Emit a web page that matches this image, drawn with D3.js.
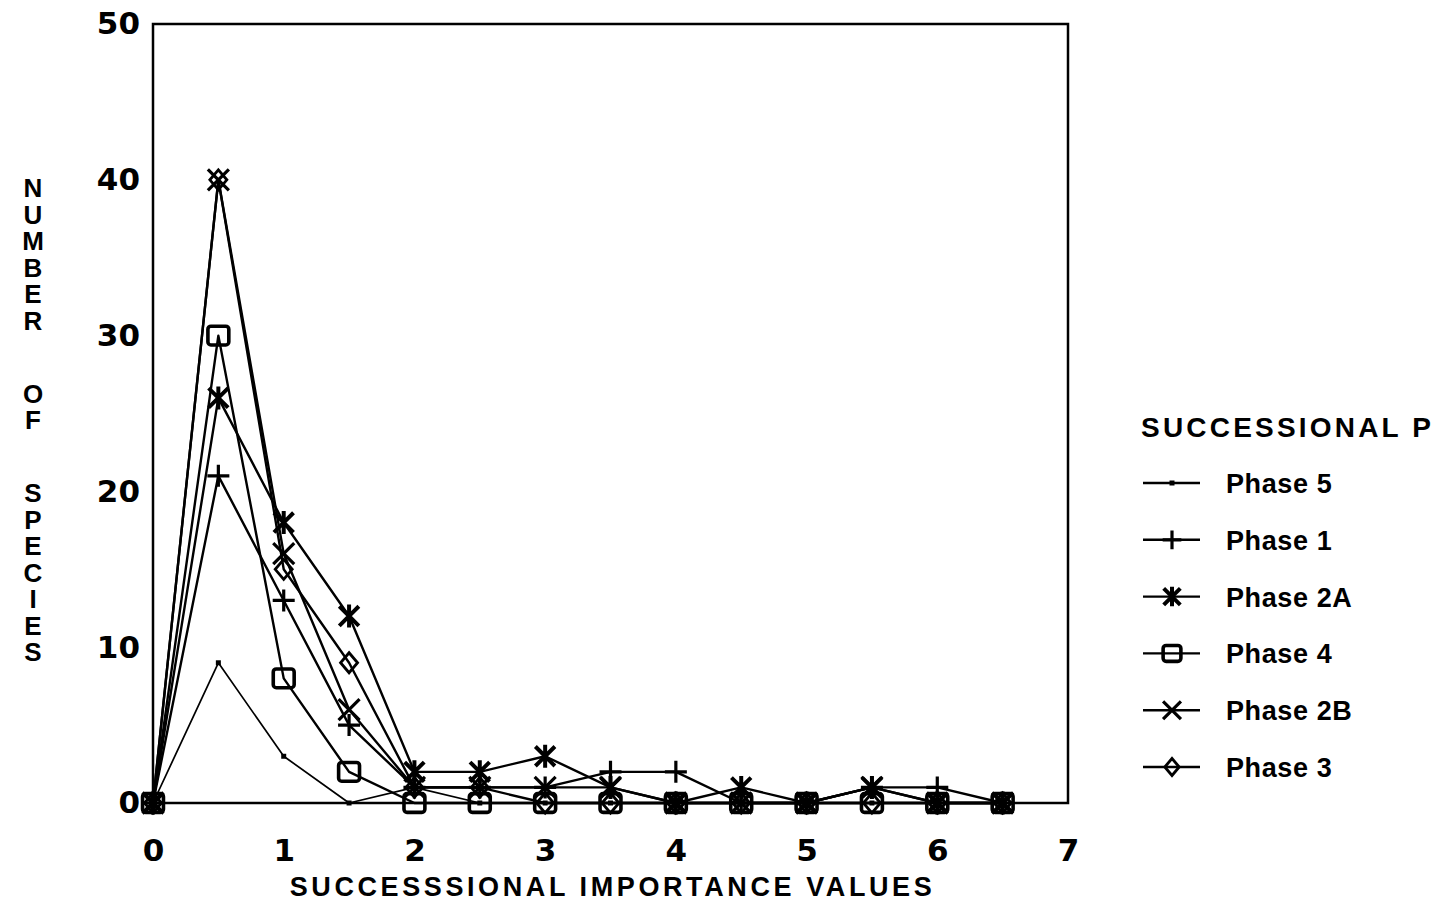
<!DOCTYPE html>
<html>
<head>
<meta charset="utf-8">
<script src="https://cdn.jsdelivr.net/npm/d3@7/dist/d3.min.js"></script>
<style>
  html, body { margin: 0; padding: 0; background: #fff; }
  svg { display: block; }
  .stacked { writing-mode: vertical-rl; text-orientation: upright; }
</style>
</head>
<body>
<svg id="chart" width="1438" height="902"></svg>
<script>
// Successional importance values (x) and number of species per phase
const siValues = [0, 0.5, 1, 1.5, 2, 2.5, 3, 3.5, 4, 4.5, 5, 5.5, 6, 6.5];
const phase5  = [0, 9, 3, 0, 1, 0, 0, 0, 0, 0, 0, 0, 0, 0];
const phase1  = [0, 21, 13, 5, 1, 1, 1, 2, 2, 0, 0, 1, 1, 0];
const phase2A = [0, 26, 18, 12, 2, 2, 3, 1, 0, 1, 0, 1, 0, 0];
const phase4  = [0, 30, 8, 2, 0, 0, 0, 0, 0, 0, 0, 0, 0, 0];
const phase2B = [0, 40, 16, 6, 1, 1, 1, 1, 0, 0, 0, 1, 0, 0];
const phase3  = [0, 40, 15, 9, 1, 1, 0, 0, 0, 0, 0, 0, 0, 0];

const xTicks = [0, 1, 2, 3, 4, 5, 6, 7];
const yTicks = [0, 10, 20, 30, 40, 50];
const seriesNames = ["Phase 5", "Phase 1", "Phase 2A", "Phase 4", "Phase 2B", "Phase 3"];
const seriesMarkers = ["dot", "plus", "asterisk", "square", "cross", "diamond"];
const seriesValues = [phase5, phase1, phase2A, phase4, phase2B, phase3];

const xTitle = "SUCCESSSIONAL IMPORTANCE VALUES";
const yTitle = "NUMBER OF SPECIES";
const legendTitle = "SUCCESSIONAL P";

const series = seriesNames.map((name, i) => ({
  name,
  marker: seriesMarkers[i],
  points: siValues.map((x, j) => ({ x, y: seriesValues[i][j] }))
}));

const svg = d3.select("#chart");
const plot = { left: 153, right: 1068, top: 24, bottom: 803 };

const x = d3.scaleLinear().domain([0, 7]).range([plot.left, plot.right]);
const y = d3.scaleLinear().domain([0, 50]).range([plot.bottom, plot.top]);

const tickFont = "'DejaVu Sans', 'Liberation Sans', sans-serif";
const textFont = "'Liberation Sans', Arial, sans-serif";

// Glyph outlines for the point markers, centred at the origin
function markerShape(type, s) {
  switch (type) {
    case "plus":
      return `M${-s},0H${s}M0,${-s}V${s}`;
    case "cross":
      return `M${-s},${-s}L${s},${s}M${-s},${s}L${s},${-s}`;
    case "asterisk":
      return `M${-s * 0.85},${-s * 0.85}L${s * 0.85},${s * 0.85}M${-s * 0.85},${s * 0.85}L${s * 0.85},${-s * 0.85}M0,${-s}V${s}`;
    case "diamond":
      return `M0,${-s}L${s * 0.85},0L0,${s}L${-s * 0.85},0Z`;
    default:
      return "";
  }
}

function drawMarker(g, type, s) {
  if (type === "dot") {
    g.append("rect").attr("x", -2.5).attr("y", -2.5).attr("width", 5).attr("height", 5)
      .attr("fill", "#000");
  } else if (type === "square") {
    g.append("rect").attr("x", -s * 0.95).attr("y", -s * 0.85)
      .attr("width", s * 1.9).attr("height", s * 1.7)
      .attr("rx", 3).attr("fill", "none").attr("stroke", "#000").attr("stroke-width", 3.6);
  } else {
    const w = type === "diamond" ? 2.8 : (type === "asterisk" ? 4 : 3.2);
    g.append("path").attr("d", markerShape(type, s))
      .attr("fill", "none").attr("stroke", "#000").attr("stroke-width", w)
      .attr("stroke-linejoin", "miter");
  }
}

const markerSize = { dot: 3, plus: 11, asterisk: 11.5, square: 11, cross: 10.5, diamond: 10 };

// Frame around the plotting area
svg.append("rect")
  .attr("x", plot.left).attr("y", plot.top)
  .attr("width", plot.right - plot.left).attr("height", plot.bottom - plot.top)
  .attr("fill", "none").attr("stroke", "#000").attr("stroke-width", 2.5);

// Axes (labels only, no tick marks)
const yAxis = svg.append("g")
  .attr("transform", `translate(${plot.left},0)`)
  .call(d3.axisLeft(y).tickValues(yTicks).tickSize(0).tickPadding(13).tickFormat(d3.format("d")));
const xAxis = svg.append("g")
  .attr("transform", `translate(0,${plot.bottom})`)
  .call(d3.axisBottom(x).tickValues(xTicks).tickSize(0).tickPadding(36).tickFormat(d3.format("d")));
[xAxis, yAxis].forEach(a => {
  a.select(".domain").remove();
  a.selectAll("text")
    .attr("font-family", tickFont).attr("font-weight", "bold")
    .attr("font-size", 31).attr("fill", "#000");
});

// Series lines
const line = d3.line().x(d => x(d.x)).y(d => y(d.y));
svg.append("g").selectAll("path")
  .data(series)
  .join("path")
  .attr("d", d => line(d.points))
  .attr("fill", "none")
  .attr("stroke", "#000")
  .attr("stroke-width", d => d.marker === "dot" ? 1.7 : 2.4)
  .attr("stroke-linejoin", "round");

// Series markers
series.forEach(s => {
  const g = svg.append("g");
  s.points.forEach(p => {
    const m = g.append("g").attr("transform", `translate(${x(p.x)},${y(p.y)})`);
    drawMarker(m, s.marker, markerSize[s.marker]);
  });
});

// X axis title
svg.append("text")
  .attr("x", (plot.left + plot.right) / 2 + 2).attr("y", 896)
  .attr("text-anchor", "middle")
  .attr("font-family", textFont).attr("font-weight", "bold")
  .attr("font-size", 27).attr("letter-spacing", 3.6)
  .text(xTitle);

// Y axis title, upright letters stacked top to bottom
svg.append("text")
  .attr("class", "stacked")
  .attr("x", 33).attr("y", 173)
  .attr("font-family", textFont).attr("font-weight", "bold")
  .attr("font-size", 26)
  .attr("letter-spacing", -3.5)
  .attr("word-spacing", 20)
  .text(yTitle);

// Legend
const legend = svg.append("g");
legend.append("text")
  .attr("x", 1141).attr("y", 437)
  .attr("font-family", textFont).attr("font-weight", "bold")
  .attr("font-size", 28).attr("letter-spacing", 3.2)
  .text(legendTitle);

const legendY = d3.scalePoint().domain(seriesNames).range([483, 767]);
series.forEach(s => {
  const cy = legendY(s.name);
  const item = legend.append("g").attr("transform", `translate(0,${cy})`);
  item.append("line").attr("x1", 1143).attr("x2", 1200).attr("y1", 0).attr("y2", 0)
    .attr("stroke", "#000").attr("stroke-width", 2.4);
  const m = item.append("g").attr("transform", "translate(1172,0)");
  drawMarker(m, s.marker, s.marker === "dot" ? 3 : markerSize[s.marker] * 0.85);
  item.append("text")
    .attr("x", 1226).attr("y", 10)
    .attr("font-family", textFont).attr("font-weight", "bold")
    .attr("font-size", 27).attr("letter-spacing", 0.6)
    .text(s.name);
});
</script>
</body>
</html>
